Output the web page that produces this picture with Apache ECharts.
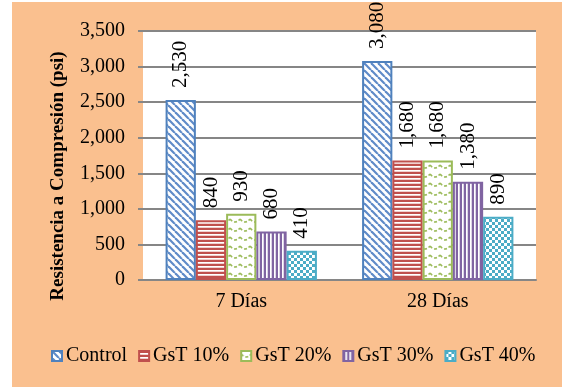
<!DOCTYPE html>
<html><head><meta charset="utf-8">
<script src="https://cdn.jsdelivr.net/npm/echarts@6/dist/echarts.min.js"></script>
<style>
html,body{margin:0;padding:0;background:#fff;}
#bg{position:absolute;left:12px;top:2px;width:550px;height:385px;background:#FAC08F;}
#chart{position:absolute;left:0;top:0;width:562px;height:387px;}
</style></head>
<body><div id="bg"></div><div id="chart"></div>
<script>
const categories = ['7 Días', '28 Días'];
const seriesNames = ['Control', 'GsT 10%', 'GsT 20%', 'GsT 30%', 'GsT 40%'];
const control = [2530, 3080];
const gst10 = [840, 1680];
const gst20 = [930, 1680];
const gst30 = [680, 1380];
const gst40 = [410, 890];
const yTicks = [0, 500, 1000, 1500, 2000, 2500, 3000, 3500];

function pat(w, h, draw) {
  const c = document.createElement('canvas');
  c.width = w; c.height = h;
  const g = c.getContext('2d');
  g.fillStyle = '#fff'; g.fillRect(0, 0, w, h);
  draw(g);
  return { image: c, repeat: 'repeat' };
}
const blue = '#4F81BD', red = '#C0504D', green = '#9BBB59', purple = '#8064A2', cyan = '#4BACC6';
const patterns = [
  pat(7, 7, g => { g.strokeStyle = '#5F8BC8'; g.lineWidth = 2.2; for (let x = -14; x <= 14; x += 7) { g.beginPath(); g.moveTo(x, 0); g.lineTo(x + 7, 7); g.stroke(); } }),
  pat(4, 4, g => { g.fillStyle = red; g.fillRect(0, 0, 4, 2); g.fillStyle = '#E6AFAD'; g.fillRect(0, 3, 4, 0.6); }),
  pat(10, 9, g => { g.strokeStyle = green; g.lineWidth = 1.6; g.setLineDash([3, 2]); g.beginPath(); g.moveTo(0, 3); g.quadraticCurveTo(5, 9, 10, 3); g.stroke(); }),
  pat(4, 4, g => { g.fillStyle = purple; g.fillRect(0, 0, 2, 4); g.fillStyle = '#C5B7D6'; g.fillRect(3, 0, 0.6, 4); }),
  pat(6, 6, g => { g.fillStyle = cyan; g.fillRect(0, 0, 3, 3); g.fillRect(3, 3, 3, 3); })
];
const borders = [blue, red, green, purple, cyan];
const dataSets = [control, gst10, gst20, gst30, gst40];
const fmt = v => String(v).replace(/\B(?=(\d{3})+(?!\d))/g, ',');
const font = 'Liberation Serif';

const chart = echarts.init(document.getElementById('chart'));
chart.setOption({
  backgroundColor: 'transparent',
  animation: false,
  textStyle: { fontFamily: font },
  grid: { left: 143, right: 26, top: 31, bottom: 107, show: true, backgroundColor: '#fff', borderWidth: 0 },
  legend: {
    left: 46, top: 341, itemWidth: 10, itemHeight: 10, itemGap: 11,
    icon: 'rect',
    textStyle: { fontFamily: font, fontSize: 20, color: '#000', padding: [0, 0, 0, -1] },
    data: seriesNames
  },
  graphic: [{
    type: 'text', x: 58, y: 176, rotation: Math.PI / 2,
    style: { text: 'Resistencia a Compresión (psi)', font: 'bold 19px "Liberation Serif"', fill: '#000', align: 'center', verticalAlign: 'middle' }
  }],
  xAxis: {
    type: 'category', data: categories,
    axisLine: { lineStyle: { color: '#868686', width: 2 } },
    axisTick: { show: false },
    axisLabel: { fontFamily: font, fontSize: 20, color: '#000', margin: 12 }
  },
  yAxis: {
    type: 'value', min: 0, max: 3500, interval: 500,
    axisLine: { show: false },
    axisTick: { show: true, length: 5, lineStyle: { color: '#868686', width: 2 } },
    splitLine: { lineStyle: { color: '#868686', width: 2 } },
    axisLabel: { fontFamily: font, fontSize: 20, color: '#000', margin: 18,
      formatter: v => yTicks.includes(v) ? fmt(v) : '' }
  },
  series: dataSets.map((d, i) => ({
    name: seriesNames[i], type: 'bar', data: d,
    barGap: '0%', barCategoryGap: '23%',
    itemStyle: { color: patterns[i], borderColor: borders[i], borderWidth: 2 },
    label: {
      show: true, position: 'top', rotate: 90, align: 'left', verticalAlign: 'middle',
      distance: 12, fontFamily: font, fontSize: 21, color: '#000',
      formatter: p => fmt(p.value)
    }
  }))
});
</script></body></html>
